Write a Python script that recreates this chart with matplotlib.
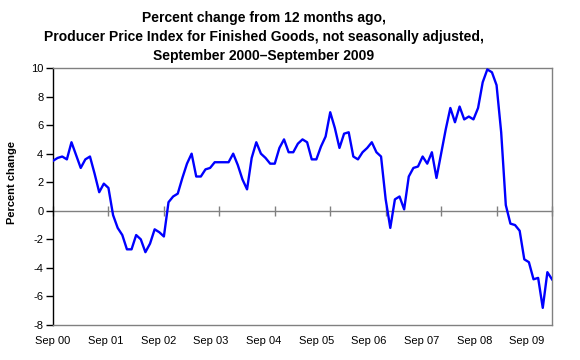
import matplotlib
matplotlib.use("Agg")
import matplotlib.pyplot as plt
import numpy as np

# Percent change from 12 months ago, monthly Sep 2000 .. Sep 2009
pct_change = [
    3.5, 3.7, 3.8, 3.6, 4.8, 3.9, 3.0, 3.6, 3.8, 2.6, 1.3, 1.9,   # Sep00-Aug01
    1.6, -0.3, -1.2, -1.7, -2.7, -2.7, -1.7, -2.0, -2.9, -2.3, -1.3, -1.5,  # Sep01-Aug02
    -1.8, 0.6, 1.0, 1.2, 2.3, 3.3, 4.0, 2.4, 2.4, 2.9, 3.0, 3.4,  # Sep02-Aug03
    3.4, 3.4, 3.4, 4.0, 3.2, 2.2, 1.5, 3.7, 4.8, 4.0, 3.7, 3.3,   # Sep03-Aug04
    3.3, 4.4, 5.0, 4.1, 4.1, 4.7, 5.0, 4.8, 3.6, 3.6, 4.5, 5.2,   # Sep04-Aug05
    6.9, 5.8, 4.4, 5.4, 5.5, 3.8, 3.6, 4.1, 4.4, 4.8, 4.1, 3.8,   # Sep05-Aug06
    0.8, -1.2, 0.8, 1.0, 0.1, 2.4, 3.0, 3.1, 3.8, 3.3, 4.1, 2.3,  # Sep06-Aug07
    4.0, 5.7, 7.2, 6.2, 7.3, 6.4, 6.6, 6.4, 7.2, 9.0, 9.9, 9.7,   # Sep07-Aug08
    8.8, 5.5, 0.4, -0.9, -1.0, -1.4, -3.4, -3.6, -4.8, -4.7, -6.8, -4.3,  # Sep08-Aug09
    -4.8,                                                          # Sep09
]
year_labels = ["Sep 00", "Sep 01", "Sep 02", "Sep 03", "Sep 04",
               "Sep 05", "Sep 06", "Sep 07", "Sep 08", "Sep 09"]
y_ticks = [-8, -6, -4, -2, 0, 2, 4, 6, 8, 10]

plt.rcParams["font.family"] = ["Liberation Sans", "DejaVu Sans"]

fig = plt.figure(figsize=(5.8, 3.6), dpi=100)
ax = fig.add_axes([53 / 580, 35 / 360, 499 / 580, 257 / 360])

months = np.arange(len(pct_change))
ax.plot(months, pct_change, color="#0000FF", lw=1.7, solid_joinstyle="round", zorder=3)

ax.set_xlim(0, len(pct_change) - 1)
ax.set_ylim(-8, 10)
ax.set_yticks(y_ticks)
ax.set_yticklabels([str(v) for v in y_ticks], fontsize=8)
ax.tick_params(axis="y", direction="out", length=5, width=1, color="black", pad=2)

# labels along the bottom, spread a little tighter than the year ticks
label_pos = np.arange(len(year_labels)) * 11.4
ax.set_xticks(label_pos)
ax.set_xticklabels(year_labels, fontsize=8)
ax.tick_params(axis="x", length=0, pad=8)

for side in ["top", "right", "bottom"]:
    ax.spines[side].set_color("#808080")
    ax.spines[side].set_linewidth(1)
ax.spines["left"].set_color("black")
ax.spines["left"].set_linewidth(1)

# category axis through zero with year ticks crossing it
zero_ax = ax.secondary_xaxis(8 / 18)
zero_ax.set_xticks(np.arange(0, len(pct_change), 12))
zero_ax.set_xticklabels([])
zero_ax.tick_params(direction="inout", length=7, width=1, color="#808080")
zero_ax.spines["bottom"].set_color("#808080")
zero_ax.spines["top"].set_visible(False)
zero_ax.spines["bottom"].set_linewidth(1)

fig.text(12 / 580, 1 - 182 / 360, "Percent change", rotation=90, fontsize=8,
         fontweight="bold", ha="center", va="center")

fig.text(264 / 580, 1 - 37 / 360,
         "Percent change from 12 months ago,\n"
         "Producer Price Index for Finished Goods, not seasonally adjusted,\n"
         "September 2000\u2013September 2009",
         ha="center", va="center", fontsize=10, fontweight="bold", linespacing=1.45)

fig.savefig("out.png", dpi=100)
